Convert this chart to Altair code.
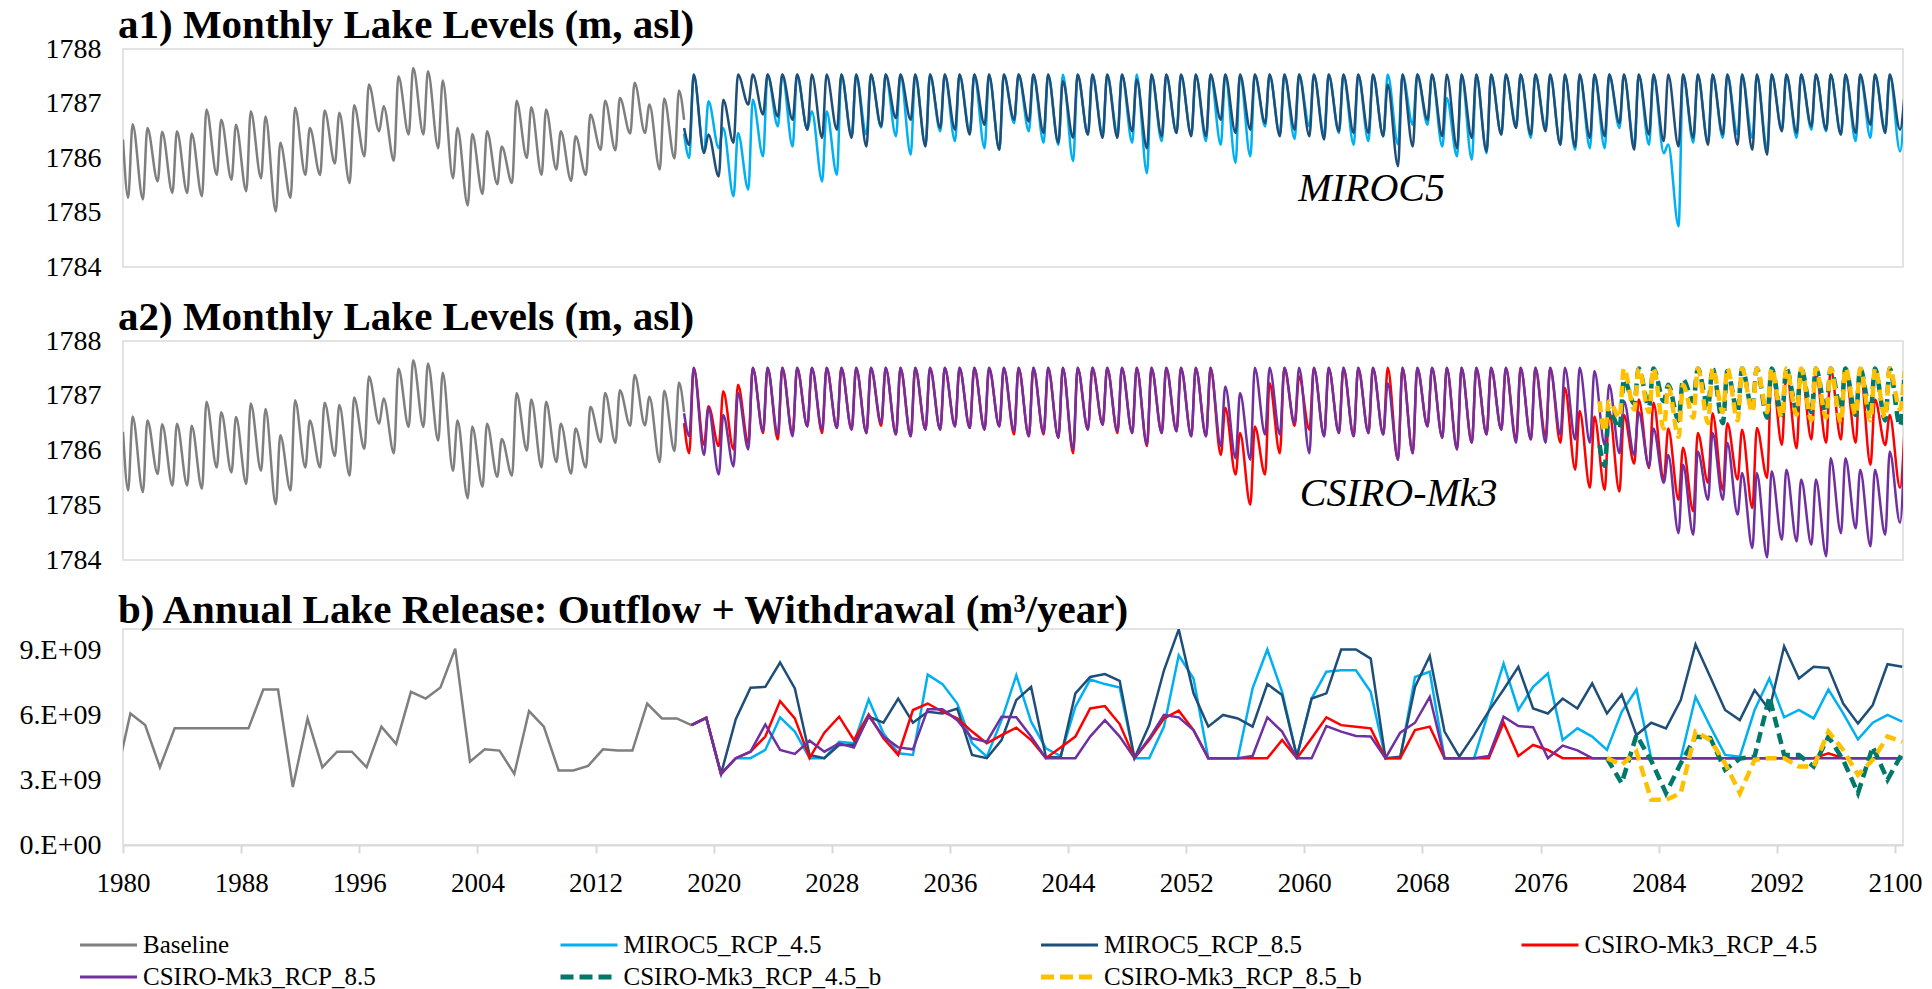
import altair as alt
import pandas as pd

# ---------------- names, colours, texts ----------------
SERIES = ["Baseline", "MIROC5_RCP_4.5", "MIROC5_RCP_8.5", "CSIRO-Mk3_RCP_4.5",
          "CSIRO-Mk3_RCP_8.5", "CSIRO-Mk3_RCP_4.5_b", "CSIRO-Mk3_RCP_8.5_b"]
COLORS = ["#7F7F7F", "#00B0F0", "#1F4E79", "#FF0000", "#7030A0", "#00796B", "#FFC000"]
DASHED = ["CSIRO-Mk3_RCP_4.5_b", "CSIRO-Mk3_RCP_8.5_b"]
TITLES = ["a1) Monthly Lake Levels (m, asl)",
          "a2) Monthly Lake Levels (m, asl)",
          "b) Annual Lake Release: Outflow + Withdrawal (m³/year)"]
MODEL_LABELS = ["MIROC5", "CSIRO-Mk3"]
LEVEL_TICKS = [1784, 1785, 1786, 1787, 1788]
RELEASE_TICKS = [0, 3e9, 6e9, 9e9]
YEAR_TICKS = [1980, 1988, 1996, 2004, 2012, 2020, 2028, 2036, 2044, 2052, 2060, 2068, 2076, 2084, 2092, 2100]

# ---------------- a) monthly lake levels: yearly low / high ----------------
BASE_YEARS = list(range(1980, 2018))
BASE_START = 1786.34
BASE_END = 1786.70
BASE_TROUGH = [1785.27, 1785.24, 1785.57, 1785.36, 1785.36, 1785.30, 1785.69, 1785.60, 1785.39, 1785.63,
               1785.02, 1785.27, 1785.69, 1785.69, 1785.90, 1785.54, 1786.03, 1786.49, 1785.95, 1786.43,
               1786.43, 1786.18, 1785.63, 1785.13, 1785.34, 1785.52, 1785.54, 1786.00, 1785.69, 1785.79,
               1785.58, 1785.69, 1786.15, 1786.14, 1786.45, 1786.46, 1785.79, 1785.99]
BASE_PEAK = [1786.62, 1786.55, 1786.48, 1786.49, 1786.45, 1786.89, 1786.70, 1786.61, 1786.86, 1786.76,
             1786.28, 1786.92, 1786.55, 1786.87, 1786.83, 1786.97, 1787.35, 1786.95, 1787.50, 1787.65,
             1787.59, 1787.42, 1786.55, 1786.44, 1786.49, 1786.21, 1787.05, 1786.93, 1786.89, 1786.49,
             1786.40, 1786.80, 1787.05, 1787.10, 1787.38, 1786.98, 1787.09, 1787.24]

FUT_YEARS = list(range(2018, 2101))

M45_START = 1786.45
M45_TROUGH = [1786.00, 1786.10, 1786.18, 1785.30, 1785.42, 1786.03, 1786.58, 1786.21, 1786.52, 1785.57,
              1785.69, 1786.40, 1786.43, 1786.56, 1786.40, 1786.06, 1786.24, 1786.49, 1786.31, 1786.49,
              1786.18, 1786.15, 1786.64, 1786.49, 1786.28, 1786.24, 1785.94, 1786.43, 1786.43, 1786.46,
              1786.28, 1785.72, 1786.31, 1786.46, 1786.43, 1786.31, 1786.24, 1785.91, 1786.03, 1786.58,
              1786.43, 1786.35, 1786.58, 1786.43, 1786.46, 1786.24, 1786.31, 1786.40, 1786.25, 1786.61,
              1786.61, 1786.21, 1786.03, 1785.97, 1786.09, 1786.43, 1786.61, 1786.37, 1786.55, 1786.24,
              1786.15, 1786.18, 1786.18, 1786.55, 1786.24, 1786.24, 1786.09, 1784.75, 1786.28, 1786.28,
              1786.37, 1786.43, 1786.37, 1786.18, 1786.52, 1786.37, 1786.52, 1786.49, 1786.43, 1786.31,
              1786.37, 1786.52, 1786.12]
M45_PEAK = [1787.53, 1787.04, 1786.55, 1786.46, 1787.07, 1787.53, 1787.53, 1787.53, 1786.86, 1786.86,
            1787.53, 1787.53, 1787.53, 1787.53, 1787.53, 1787.53, 1787.53, 1787.53, 1787.53, 1787.53,
            1787.53, 1787.53, 1787.53, 1787.53, 1787.53, 1787.53, 1787.53, 1787.53, 1787.53, 1787.53,
            1787.53, 1787.53, 1787.53, 1787.53, 1787.53, 1787.53, 1787.53, 1787.53, 1787.53, 1787.53,
            1787.53, 1787.53, 1787.53, 1787.53, 1787.53, 1787.53, 1787.53, 1787.53, 1787.53, 1787.53,
            1787.53, 1787.10, 1787.53, 1787.53, 1787.53, 1787.53, 1787.53, 1787.53, 1787.53, 1787.53,
            1787.53, 1787.53, 1787.53, 1787.53, 1787.53, 1787.53, 1786.25, 1787.53, 1787.53, 1787.53,
            1787.53, 1787.53, 1787.53, 1787.53, 1787.53, 1787.53, 1787.53, 1787.53, 1787.53, 1787.53,
            1787.53, 1787.53, 1787.00]

M85_START = 1786.55
M85_TROUGH = [1786.24, 1786.09, 1785.66, 1786.28, 1786.98, 1786.80, 1786.76, 1786.70, 1786.52, 1786.37,
              1786.52, 1786.37, 1786.21, 1786.58, 1786.73, 1786.70, 1786.21, 1786.55, 1786.52, 1786.43,
              1786.61, 1786.15, 1786.70, 1786.67, 1786.46, 1786.28, 1786.37, 1786.43, 1786.37, 1786.37,
              1786.49, 1786.18, 1786.40, 1786.46, 1786.40, 1786.40, 1786.70, 1786.46, 1786.52, 1786.64,
              1786.40, 1786.52, 1786.40, 1786.34, 1786.49, 1786.46, 1786.46, 1786.40, 1785.85, 1786.21,
              1786.70, 1786.40, 1786.18, 1786.37, 1786.12, 1786.43, 1786.55, 1786.43, 1786.49, 1786.24,
              1786.21, 1786.37, 1786.40, 1786.64, 1786.15, 1786.43, 1786.31, 1786.21, 1786.37, 1786.24,
              1786.43, 1786.24, 1786.15, 1786.06, 1786.49, 1786.46, 1786.58, 1786.52, 1786.43, 1786.46,
              1786.61, 1786.46, 1786.52]
M85_PEAK = [1787.53, 1786.43, 1787.07, 1787.53, 1787.53, 1787.53, 1787.53, 1787.53, 1787.53, 1787.53,
            1787.53, 1787.53, 1787.53, 1787.53, 1787.53, 1787.53, 1787.53, 1787.53, 1787.53, 1787.53,
            1787.53, 1787.53, 1787.53, 1787.53, 1787.53, 1787.41, 1787.53, 1787.53, 1787.53, 1787.53,
            1787.44, 1787.53, 1787.53, 1787.53, 1787.53, 1787.53, 1787.53, 1787.53, 1787.53, 1787.53,
            1787.53, 1787.53, 1787.53, 1787.53, 1787.53, 1787.53, 1787.53, 1787.35, 1787.53, 1787.53,
            1787.53, 1787.53, 1787.53, 1787.53, 1787.53, 1787.53, 1787.53, 1787.53, 1787.53, 1787.53,
            1787.53, 1787.53, 1787.53, 1787.53, 1787.53, 1787.53, 1787.53, 1787.53, 1787.53, 1787.53,
            1787.53, 1787.53, 1787.53, 1787.53, 1787.53, 1787.53, 1787.53, 1787.53, 1787.53, 1787.53,
            1787.53, 1787.53, 1787.16]

C45_START = 1786.50
C45_TROUGH = [1785.95, 1786.10, 1786.08, 1786.02, 1786.14, 1786.32, 1786.20, 1786.30, 1786.44, 1786.32,
              1786.41, 1786.38, 1786.32, 1786.45, 1786.29, 1786.26, 1786.38, 1786.38, 1786.44, 1786.41,
              1786.38, 1786.44, 1786.29, 1786.26, 1786.29, 1786.23, 1785.95, 1786.38, 1786.47, 1786.32,
              1786.32, 1786.08, 1786.32, 1786.35, 1786.26, 1786.26, 1785.92, 1785.56, 1785.01, 1785.56,
              1785.95, 1786.45, 1786.38, 1786.26, 1786.32, 1786.26, 1786.32, 1786.29, 1785.83, 1785.95,
              1786.44, 1786.23, 1786.02, 1786.14, 1786.29, 1786.38, 1786.20, 1786.20, 1786.26, 1786.14,
              1785.65, 1785.32, 1785.28, 1785.25, 1785.76, 1785.68, 1785.47, 1785.10, 1784.89, 1785.41,
              1785.28, 1785.47, 1784.95, 1785.50, 1786.10, 1786.04, 1786.20, 1786.14, 1786.20, 1786.14,
              1785.74, 1786.10, 1785.32]
C45_PEAK = [1787.51, 1786.81, 1787.08, 1787.20, 1787.51, 1787.51, 1787.51, 1787.51, 1787.51, 1787.51,
            1787.51, 1787.51, 1787.51, 1787.51, 1787.51, 1787.51, 1787.51, 1787.51, 1787.51, 1787.51,
            1787.51, 1787.51, 1787.51, 1787.51, 1787.51, 1787.51, 1787.51, 1787.51, 1787.51, 1787.51,
            1787.51, 1787.51, 1787.51, 1787.51, 1787.51, 1787.51, 1786.78, 1786.32, 1786.44, 1787.23,
            1787.51, 1787.35, 1787.51, 1787.51, 1787.51, 1787.51, 1787.51, 1787.51, 1787.51, 1787.51,
            1787.51, 1787.51, 1787.51, 1787.51, 1787.51, 1787.51, 1787.51, 1787.51, 1787.51, 1787.14,
            1786.72, 1786.62, 1786.72, 1786.65, 1786.93, 1786.87, 1786.40, 1786.05, 1786.32, 1786.68,
            1786.50, 1786.38, 1786.41, 1787.51, 1787.45, 1787.50, 1787.40, 1787.50, 1787.45, 1787.50,
            1786.93, 1786.65, 1786.35]

C85_START = 1786.68
C85_TROUGH = [1786.26, 1785.92, 1785.56, 1785.71, 1786.02, 1786.35, 1786.29, 1786.26, 1786.44, 1786.38,
              1786.41, 1786.38, 1786.32, 1786.50, 1786.29, 1786.26, 1786.38, 1786.38, 1786.44, 1786.41,
              1786.38, 1786.44, 1786.35, 1786.26, 1786.32, 1786.23, 1786.02, 1786.38, 1786.47, 1786.35,
              1786.32, 1786.11, 1786.32, 1786.35, 1786.26, 1786.26, 1786.08, 1785.86, 1785.83, 1786.29,
              1786.29, 1786.50, 1785.95, 1786.26, 1786.32, 1786.26, 1786.32, 1786.29, 1785.83, 1785.95,
              1786.44, 1786.23, 1786.02, 1786.14, 1786.29, 1786.38, 1786.14, 1786.20, 1786.14, 1786.29,
              1786.20, 1786.14, 1786.10, 1785.95, 1785.92, 1785.71, 1785.41, 1784.49, 1784.46, 1785.10,
              1785.10, 1784.83, 1784.22, 1784.05, 1784.37, 1784.34, 1784.28, 1784.07, 1784.49, 1784.58,
              1784.25, 1784.46, 1784.68]
C85_PEAK = [1787.51, 1786.78, 1786.65, 1787.05, 1787.51, 1787.51, 1787.51, 1787.51, 1787.51, 1787.51,
            1787.51, 1787.51, 1787.51, 1787.51, 1787.51, 1787.51, 1787.51, 1787.51, 1787.51, 1787.51,
            1787.51, 1787.51, 1787.51, 1787.51, 1787.51, 1787.51, 1787.51, 1787.51, 1787.51, 1787.51,
            1787.51, 1787.51, 1787.51, 1787.51, 1787.51, 1787.51, 1787.17, 1787.05, 1787.51, 1787.51,
            1787.51, 1787.51, 1787.51, 1787.51, 1787.51, 1787.51, 1787.51, 1787.23, 1787.51, 1787.51,
            1787.51, 1787.51, 1787.51, 1787.51, 1787.51, 1787.51, 1787.51, 1787.51, 1787.51, 1787.51,
            1787.51, 1787.45, 1787.20, 1786.90, 1786.70, 1786.40, 1785.92, 1785.74, 1785.98, 1786.32,
            1786.14, 1785.59, 1785.59, 1785.62, 1785.65, 1785.47, 1785.47, 1785.86, 1785.86, 1785.65,
            1785.65, 1785.98, 1786.14]

B_YEARS = list(range(2080, 2101))
C45B_START = 1786.10
C45B_TROUGH = [1785.72, 1786.40, 1786.85, 1786.80, 1786.90, 1786.55, 1786.90, 1786.80, 1786.50, 1786.70,
               1786.75, 1786.60, 1786.65, 1786.75, 1786.70, 1786.70, 1786.75, 1786.65, 1786.70, 1786.55,
               1786.45]
C45B_PEAK = [1786.75, 1787.30, 1787.50, 1787.50, 1787.20, 1787.30, 1787.50, 1787.50, 1787.45, 1787.50,
             1787.50, 1787.50, 1787.50, 1787.50, 1787.50, 1787.50, 1787.50, 1787.50, 1787.50, 1787.50,
             1787.40]
C85B_START = 1786.90
C85B_TROUGH = [1786.35, 1786.60, 1786.75, 1786.70, 1786.40, 1786.25, 1786.60, 1786.50, 1786.70, 1786.55,
               1786.70, 1786.70, 1786.60, 1786.65, 1786.55, 1786.60, 1786.50, 1786.65, 1786.55, 1786.60,
               1786.75]
C85B_PEAK = [1786.90, 1787.50, 1787.50, 1787.50, 1787.17, 1787.20, 1787.50, 1787.50, 1787.50, 1787.50,
             1787.50, 1787.50, 1787.50, 1787.50, 1787.50, 1787.50, 1787.50, 1787.50, 1787.50, 1787.50,
             1787.45]

# ---------------- b) annual release, in 1e9 m3/year ----------------
REL_BASE_YEARS = list(range(1979, 2019))
REL_BASE = [3.00, 6.09, 5.55, 3.60, 5.40, 5.40, 5.40, 5.40, 5.40, 5.40,
            7.20, 7.20, 2.68, 5.86, 3.60, 4.32, 4.32, 3.60, 5.48, 4.68,
            7.09, 6.78, 7.29, 9.09, 3.86, 4.43, 4.37, 3.29, 6.20, 5.48,
            3.45, 3.45, 3.66, 4.43, 4.37, 4.37, 6.55, 5.86, 5.86, 5.55]
REL_FUT_YEARS = list(range(2018, 2101))
REL_M45 = [5.55, 5.89, 3.29, 4.02, 4.02, 4.40, 5.91, 5.25, 4.02, 4.02,
           4.78, 4.71, 6.74, 5.17, 4.25, 4.17, 7.89, 7.45, 6.55, 4.71,
           4.09, 5.78, 7.86, 5.71, 4.48, 4.12, 6.40, 7.66, 7.45, 7.29,
           4.02, 4.02, 5.48, 8.78, 7.71, 4.02, 4.02, 4.02, 7.25, 9.05,
           7.09, 4.10, 6.78, 8.02, 8.09, 8.09, 7.09, 4.02, 4.02, 7.78,
           8.02, 4.02, 4.02, 4.02, 6.20, 8.40, 6.25, 7.32, 7.94, 4.86,
           5.40, 5.02, 4.40, 6.17, 7.20, 4.02, 4.02, 4.02, 6.86, 5.48,
           4.17, 4.09, 6.25, 7.71, 5.91, 6.25, 5.86, 7.20, 6.09, 4.89,
           5.66, 6.02, 5.71]
REL_M85 = [5.55, 5.89, 3.29, 5.82, 7.28, 7.32, 8.45, 7.25, 4.17, 4.02,
           4.63, 4.63, 5.94, 5.66, 6.78, 5.66, 6.17, 6.09, 6.32, 4.17,
           4.02, 4.86, 6.71, 7.32, 4.09, 4.05, 7.02, 7.78, 7.91, 7.60,
           4.02, 5.55, 8.09, 9.98, 7.02, 5.48, 6.02, 5.86, 5.48, 7.45,
           6.94, 4.10, 6.78, 7.02, 9.05, 9.05, 8.63, 4.02, 4.09, 7.32,
           8.75, 5.25, 4.09, 5.10, 6.20, 7.20, 8.25, 6.32, 6.09, 6.78,
           6.32, 7.48, 6.09, 6.97, 5.09, 5.66, 5.40, 6.71, 9.28, 7.78,
           6.25, 5.78, 7.17, 6.25, 9.20, 7.71, 8.25, 8.20, 6.55, 5.63,
           6.48, 8.37, 8.25]
REL_C45 = [5.55, 5.89, 3.29, 4.02, 4.32, 5.02, 6.66, 5.86, 4.02, 5.20,
           5.94, 4.86, 6.05, 4.94, 4.17, 6.25, 6.55, 6.17, 5.86, 5.25,
           4.71, 5.09, 5.43, 4.86, 4.02, 4.51, 5.02, 6.32, 6.43, 5.60,
           4.02, 4.86, 5.86, 6.22, 5.32, 4.02, 4.02, 4.02, 4.02, 4.02,
           4.86, 4.02, 4.94, 5.91, 5.55, 5.48, 5.40, 4.02, 4.02, 5.32,
           5.48, 4.02, 4.02, 4.02, 4.02, 5.66, 4.12, 4.63, 4.40, 4.02,
           4.02, 4.02, 4.02, 4.02, 4.02, 4.02, 4.02, 4.02, 4.02, 4.02,
           4.02, 4.02, 4.02, 4.02, 4.02, 4.02, 4.02, 4.25, 4.02, 4.02,
           4.02, 4.02, 4.02]
REL_C85 = [5.55, 5.89, 3.29, 4.02, 4.32, 5.58, 4.40, 4.22, 4.83, 4.32,
           4.71, 4.51, 5.97, 5.02, 4.52, 4.43, 6.29, 6.29, 5.78, 4.94,
           4.78, 5.94, 5.91, 5.02, 4.02, 4.02, 4.02, 5.02, 5.78, 5.02,
           4.02, 4.94, 6.02, 5.91, 5.32, 4.02, 4.02, 4.02, 4.12, 5.91,
           5.25, 4.02, 4.02, 5.51, 5.25, 5.05, 5.02, 4.02, 5.20, 5.66,
           6.86, 4.02, 4.02, 4.02, 4.12, 5.94, 5.51, 5.45, 4.02, 4.60,
           4.38, 4.02, 4.02, 4.02, 4.02, 4.02, 4.02, 4.02, 4.02, 4.02,
           4.02, 4.02, 4.02, 4.02, 4.02, 4.02, 4.02, 4.02, 4.02, 4.02,
           4.02, 4.02, 4.02]
REL_B_YEARS = list(range(2080, 2101))
REL_C45B = [4.02, 2.86, 5.09, 3.90, 2.40, 3.78, 5.02, 4.95, 3.48, 4.00,
            4.10, 6.86, 4.17, 4.17, 3.63, 5.02, 3.94, 2.40, 4.55, 3.02, 4.25]
REL_C85B = [4.02, 3.71, 4.32, 2.09, 2.09, 2.40, 5.25, 4.86, 3.78, 2.40,
            3.94, 4.02, 4.02, 3.63, 3.63, 5.25, 4.40, 3.25, 3.94, 5.02, 4.78]

# ---------------- layout constants ----------------
FONT = "Liberation Serif"
W = 1780
H_A1, H_A2, H_B = 218, 219, 216
X_END = 2100.55
T_OFF, P_OFF = 0.35, 0.65   # timing of yearly low / high within a year


def monthly(name, x0, v0, years, troughs, peaks, x1=None, v1=None):
    xs, vs = [x0], [v0]
    for y, lo, hi in zip(years, troughs, peaks):
        xs += [y + T_OFF, y + P_OFF]
        vs += [lo, hi]
    if x1 is not None:
        xs.append(x1)
        vs.append(v1)
    return pd.DataFrame({"t": xs, "value": vs, "series": name})


def annual(name, years, vals):
    return pd.DataFrame({"t": [y + 0.5 for y in years],
                         "value": [v * 1e9 for v in vals], "series": name})


base_m = monthly(SERIES[0], 1980.0, BASE_START, BASE_YEARS, BASE_TROUGH, BASE_PEAK, 2018.0, BASE_END)
a1_df = pd.concat([
    base_m,
    monthly(SERIES[1], 2018.0, M45_START, FUT_YEARS, M45_TROUGH, M45_PEAK),
    monthly(SERIES[2], 2018.0, M85_START, FUT_YEARS, M85_TROUGH, M85_PEAK),
])
a2_df = pd.concat([
    base_m,
    monthly(SERIES[3], 2018.0, C45_START, FUT_YEARS, C45_TROUGH, C45_PEAK),
    monthly(SERIES[4], 2018.0, C85_START, FUT_YEARS, C85_TROUGH, C85_PEAK),
    monthly(SERIES[5], 2080.0, C45B_START, B_YEARS, C45B_TROUGH, C45B_PEAK),
    monthly(SERIES[6], 2080.0, C85B_START, B_YEARS, C85B_TROUGH, C85B_PEAK),
])
b_df = pd.concat([
    annual(SERIES[0], REL_BASE_YEARS, REL_BASE),
    annual(SERIES[1], REL_FUT_YEARS, REL_M45),
    annual(SERIES[2], REL_FUT_YEARS, REL_M85),
    annual(SERIES[3], REL_FUT_YEARS, REL_C45),
    annual(SERIES[4], REL_FUT_YEARS, REL_C85),
    annual(SERIES[5], REL_B_YEARS, REL_C45B),
    annual(SERIES[6], REL_B_YEARS, REL_C85B),
])

X_SCALE = alt.Scale(domain=[1980, X_END], nice=False, zero=False)
COLOR = alt.Color("series:N", scale=alt.Scale(domain=SERIES, range=COLORS), legend=None)

A_Y_AXIS = alt.Axis(values=LEVEL_TICKS, format="d", labelFont=FONT, labelFontSize=28,
                    labelColor="black", ticks=False, domain=False, grid=False, labelPadding=22)
B_Y_AXIS = alt.Axis(values=RELEASE_TICKS, labelFont=FONT, labelFontSize=28, labelColor="black",
                    ticks=False, domain=False, grid=False, labelPadding=22,
                    labelExpr="datum.value == 0 ? '0.E+00' : format(datum.value / 1e9, '.0f') + '.E+09'")
B_X_AXIS = alt.Axis(values=YEAR_TICKS, format="d", labelFont=FONT, labelFontSize=27, labelColor="black",
                    tickColor="#D9D9D9", tickSize=8, tickWidth=2, domainColor="#D9D9D9", domainWidth=2,
                    grid=False, labelPadding=17, labelFlush=False)


def title(text, offset):
    return alt.TitleParams(text=text, anchor="start", frame="group", font=FONT, fontSize=41,
                           fontWeight="bold", color="black", offset=offset, dx=-5)


def panel(df, y_scale, y_axis, x_axis, height, ttl, offset, interp, label=None, label_pos=None):
    x_enc = alt.X("t:Q", scale=X_SCALE, axis=x_axis, title=None)
    y_enc = alt.Y("value:Q", scale=y_scale, axis=y_axis, title=None)
    solid = alt.Chart(df[~df.series.isin(DASHED)]).mark_line(
        strokeWidth=2.5, clip=True, interpolate=interp).encode(x=x_enc, y=y_enc, color=COLOR)
    layers = [solid]
    dashed_df = df[df.series.isin(DASHED)]
    if len(dashed_df):
        layers.append(alt.Chart(dashed_df).mark_line(
            strokeWidth=4.5, strokeDash=[11, 6], clip=True, interpolate=interp).encode(
            x=x_enc, y=y_enc, color=COLOR))
    if label is not None:
        ann = pd.DataFrame({"t": [label_pos[0]], "value": [label_pos[1]], "label": [label]})
        layers.append(alt.Chart(ann).mark_text(align="left", baseline="middle", font=FONT,
                                               fontStyle="italic", fontSize=40, color="black").encode(
            x=alt.X("t:Q", scale=X_SCALE, axis=x_axis), y=alt.Y("value:Q", scale=y_scale, axis=y_axis),
            text="label:N"))
    return alt.layer(*layers).properties(width=W, height=height, title=title(ttl, offset))


LEVEL_SCALE = alt.Scale(domain=[1784, 1788], nice=False, zero=False)
a1 = panel(a1_df, LEVEL_SCALE, A_Y_AXIS, None, H_A1, TITLES[0], -12, "monotone",
           MODEL_LABELS[0], (2059.6, 1785.44))
a2 = panel(a2_df, LEVEL_SCALE, A_Y_AXIS, None, H_A2, TITLES[1], -12, "monotone",
           MODEL_LABELS[1], (2059.7, 1785.21))
b = panel(b_df, alt.Scale(domain=[0, 1e10], nice=False, zero=True), B_Y_AXIS, B_X_AXIS, H_B,
          TITLES[2], -3, "linear")

# ---------------- legend (drawn by hand so the 4-column grid matches) ----------------
LEG_H = 66
leg = pd.DataFrame({"series": SERIES})
idx = list(range(len(SERIES)))
leg["x0"] = [-43 + (i % 4) * 480.5 for i in idx]
leg["x1"] = leg["x0"] + 57
leg["tx"] = leg["x0"] + 63
leg["y"] = [34 + (i // 4) * 32 for i in idx]
LX = alt.Scale(domain=[0, W], nice=False, zero=False)
LY = alt.Scale(domain=[0, LEG_H], range=[0, LEG_H], nice=False, zero=False)
leg_solid = alt.Chart(leg[~leg.series.isin(DASHED)]).mark_rule(strokeWidth=3).encode(
    x=alt.X("x0:Q", scale=LX, axis=None), x2="x1:Q", y=alt.Y("y:Q", scale=LY, axis=None), color=COLOR)
leg_dash = alt.Chart(leg[leg.series.isin(DASHED)]).mark_rule(strokeWidth=5, strokeDash=[13, 6]).encode(
    x=alt.X("x0:Q", scale=LX, axis=None), x2="x1:Q", y=alt.Y("y:Q", scale=LY, axis=None), color=COLOR)
leg_text = alt.Chart(leg).mark_text(align="left", baseline="middle", font=FONT, fontSize=25,
                                    color="black").encode(
    x=alt.X("tx:Q", scale=LX, axis=None), y=alt.Y("y:Q", scale=LY, axis=None), text="series:N")
legend = alt.layer(leg_solid, leg_dash, leg_text).properties(
    width=W, height=LEG_H, view=alt.ViewConfig(strokeWidth=0))

chart = alt.vconcat(a1, a2, b, legend, spacing=14).properties(
    padding={"left": 18, "top": 4, "right": 5, "bottom": 0},
    background="white",
).configure_view(stroke="#E3E3E3", strokeWidth=2)

chart.save("out.html", embed_options={"renderer": "svg", "actions": False})
